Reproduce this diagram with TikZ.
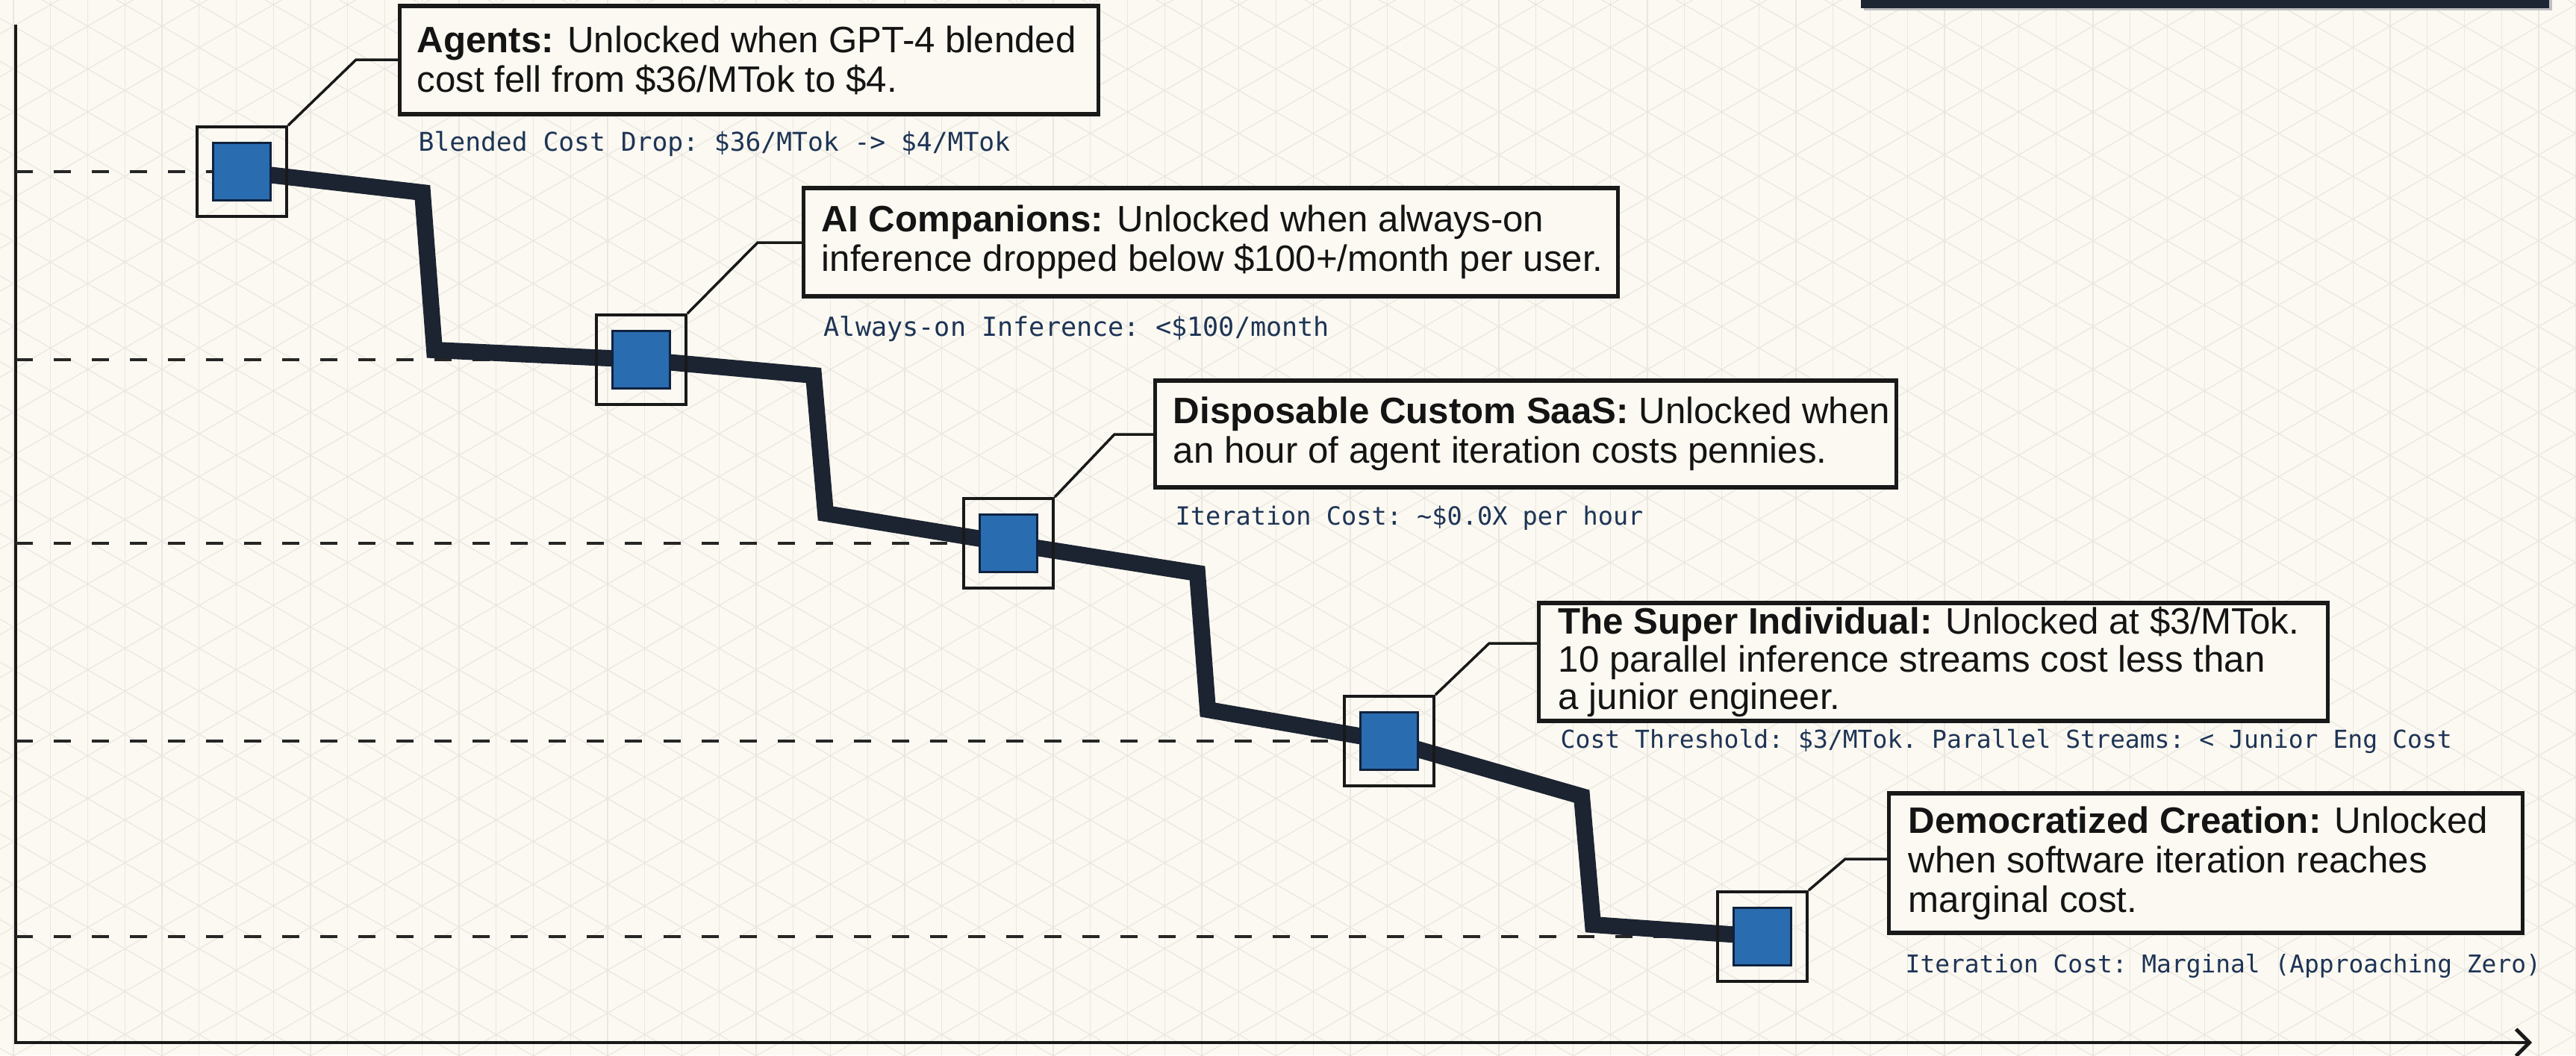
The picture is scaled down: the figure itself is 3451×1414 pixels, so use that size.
\documentclass[tikz,border=0pt]{standalone}
\usepackage{fontspec}
\setmainfont{Liberation Sans}
\setmonofont{DejaVu Sans Mono}
\usetikzlibrary{arrows.meta}
\definecolor{paper}{RGB}{251,249,241}
\definecolor{gridln}{RGB}{233,231,224}
\definecolor{ink}{RGB}{28,35,49}
\definecolor{markblue}{RGB}{42,108,176}
\definecolor{markedge}{RGB}{16,34,62}
\definecolor{subink}{RGB}{30,52,86}
\definecolor{barfill}{RGB}{30,38,51}

\begin{document}
\begin{tikzpicture}[x=0.01cm,y=-0.01cm,
  callout/.style={draw=black!90, line width=1.5pt, fill=paper, inner sep=0pt},
  calltext/.style={anchor=west, align=left, inner sep=0pt, text=black!92,
    font=\fontsize{14}{15.1}\selectfont},
  subnote/.style={anchor=base west, inner sep=0pt, text=subink,
    font=\ttfamily\fontsize{#1}{12}\selectfont},
  outerbox/.style={draw=black!90, line width=1.1pt, minimum size=1.2cm, inner sep=0pt},
  innerbox/.style={draw=markedge, fill=markblue, line width=0.9pt, minimum size=0.77cm, inner sep=0pt},
  leader/.style={draw=black!90, line width=1pt},
  guide/.style={draw=black!85, line width=1.2pt, dash pattern=on 0.23cm off 0.28cm},
  trend/.style={draw=ink, line width=0.22cm, line join=miter},
  axis/.style={draw=black!90, line width=1.4pt}
]
% paper and isometric grid
\fill[paper] (0,0) rectangle (3451,1414);
\useasboundingbox (0,0) rectangle (3451,1414);
\begin{scope}
  \clip (0,0) rectangle (3451,1414);
  \foreach \i in {0,...,69}
    \draw[gridln, line width=0.4pt] ({18+49.75*\i},0) -- ({18+49.75*\i},1414);
  \foreach \k in {-36,...,25}
    \draw[gridln, line width=0.35pt] (0,{24.6+57.5*\k}) -- (3451,{2019+57.5*\k});
  \foreach \k in {-1,...,60}
    \draw[gridln, line width=0.35pt] (0,{45.4+57.5*\k}) -- (3451,{-1949+57.5*\k});
\end{scope}

% dark bar along the top edge
\fill[black!25] (2497,-5) rectangle (3419,14);
\fill[barfill] (2493,-5) rectangle (3415,11);

% axes
\coordinate (ytop) at (21,33);
\coordinate (origin) at (21,1397);
\coordinate (xend) at (3392,1397);
\draw[axis, -{Straight Barb[length=0.18cm,width=0.36cm]}] (ytop) -- (origin) -- (xend);

% milestone positions and bends of the cost curve
\coordinate (p1) at (324,230);
\coordinate (p2) at (859,482);
\coordinate (p3) at (1351,728);
\coordinate (p4) at (1861,993);
\coordinate (p5) at (2361,1255);
\coordinate (c1) at (566,258);
\coordinate (c2) at (582,469);
\coordinate (c3) at (1090,503);
\coordinate (c4) at (1106,688);
\coordinate (c5) at (1604,768);
\coordinate (c6) at (1618,951);
\coordinate (c7) at (2119,1067);
\coordinate (c8) at (2134,1239);

% level guides
\foreach \p in {p1,p2,p3,p4,p5}
  \draw[guide] (origin |- \p) -- (\p);

% stepped cost curve
\draw[trend] (p1) -- (c1) -- (c2) -- (p2) -- (c3) -- (c4) -- (p3) -- (c5) -- (c6) -- (p4) -- (c7) -- (c8) -- (p5);

% milestone markers
\foreach \n in {1,...,5} {
  \node[outerbox] (o\n) at (p\n) {};
  \node[innerbox] (m\n) at (p\n) {};
}

% callout boxes
\node[callout, minimum width=9.35cm, minimum height=1.45cm] (b1) at (1003.5,80.5) {};
\node[callout, minimum width=10.90cm, minimum height=1.45cm] (b2) at (1622,324.5) {};
\node[callout, minimum width=9.92cm, minimum height=1.43cm] (b3) at (2044,581.5) {};
\node[callout, minimum width=10.56cm, minimum height=1.58cm] (b4) at (2590,887) {};
\node[callout, minimum width=8.48cm, minimum height=1.87cm] (b5) at (2955,1156.5) {};

\node[calltext] (t1) at ([xshift=0.25cm]b1.west)
  {\textbf{Agents:} Unlocked when GPT-4 blended\\cost fell from \$36/MTok to \$4.};
\node[calltext] (t2) at ([xshift=0.26cm]b2.west)
  {\textbf{AI Companions:} Unlocked when always-on\\inference dropped below \$100+/month per user.};
\node[calltext] (t3) at ([xshift=0.26cm]b3.west)
  {\textbf{Disposable Custom SaaS:} Unlocked when\\an hour of agent iteration costs pennies.};
\node[calltext, font=\fontsize{14}{14.3}\selectfont] (t4) at ([xshift=0.28cm]b4.west)
  {\textbf{The Super Individual:} Unlocked at \$3/MTok.\\10 parallel inference streams cost less than\\a junior engineer.};
\node[calltext] (t5) at ([xshift=0.28cm]b5.west)
  {\textbf{Democratized Creation:} Unlocked\\when software iteration reaches\\marginal cost.};

% leader lines from markers to callouts
\coordinate (k1) at (477,80);
\coordinate (k2) at (1015,325);
\coordinate (k3) at (1493,582);
\coordinate (k4) at (1995,862);
\coordinate (k5) at (2472,1151);
\foreach \n in {1,...,5}
  \draw[leader] (o\n.north east) -- (k\n) -- (b\n.west |- k\n);

% metric notes
\node[subnote=9.85] (s1) at (560,202) {Blended Cost Drop: \$36/MTok -> \$4/MTok};
\node[subnote=10] (s2) at (1103,450) {Always-on Inference: <\$100/month};
\node[subnote=9.55] (s3) at (1574,703) {Iteration Cost: \textasciitilde\$0.0X per hour};
\node[subnote=9.4] (s4) at (2090,1002) {Cost Threshold: \$3/MTok. Parallel Streams: < Junior Eng Cost};
\node[subnote=9.35] (s5) at (2552,1303) {Iteration Cost: Marginal (Approaching Zero)};
\end{tikzpicture}
\end{document}
